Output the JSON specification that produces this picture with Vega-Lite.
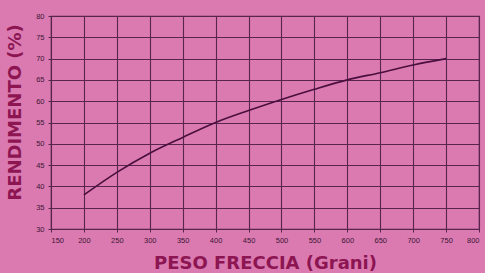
{
  "$schema": "https://vega.github.io/schema/vega-lite/v6.json",
  "width": 428,
  "height": 213,
  "autosize": "none",
  "padding": {"left": 51, "top": 16, "right": 6, "bottom": 44},
  "background": "#da7ab0",
  "config": {
    "view": {"stroke": "#5a2450", "strokeWidth": 1.2},
    "axis": {
      "gridColor": "#5a2450",
      "gridOpacity": 1,
      "gridWidth": 1.1,
      "domainColor": "#5a2450",
      "tickColor": "#5a2450",
      "tickSize": 3,
      "labelColor": "#3d1535",
      "labelFont": "Liberation Sans",
      "labelFontSize": 7.5,
      "titleColor": "#8c1552",
      "titleFont": "DejaVu Sans",
      "titleFontWeight": "bold",
      "titleFontSize": 18
    }
  },
  "data": {
    "values": [
      {"peso": 200, "rend": 38},
      {"peso": 250, "rend": 43.3},
      {"peso": 300, "rend": 47.8},
      {"peso": 350, "rend": 51.5},
      {"peso": 400, "rend": 55},
      {"peso": 450, "rend": 57.8},
      {"peso": 500, "rend": 60.4},
      {"peso": 550, "rend": 62.8},
      {"peso": 600, "rend": 65},
      {"peso": 650, "rend": 66.7},
      {"peso": 700, "rend": 68.5},
      {"peso": 750, "rend": 70}
    ]
  },
  "mark": {"type": "line", "interpolate": "monotone", "color": "#4a0f3e", "strokeWidth": 1.6},
  "encoding": {
    "x": {
      "field": "peso",
      "type": "quantitative",
      "scale": {"domain": [150, 800], "nice": false},
      "axis": {
        "values": [150, 200, 250, 300, 350, 400, 450, 500, 550, 600, 650, 700, 750, 800],
        "title": "PESO FRECCIA (Grani)",
        "labelPadding": 4,
        "titleY": 39,
        "titleBaseline": "alphabetic"
      }
    },
    "y": {
      "field": "rend",
      "type": "quantitative",
      "scale": {"domain": [30, 80], "nice": false, "zero": false},
      "axis": {
        "values": [30, 35, 40, 45, 50, 55, 60, 65, 70, 75, 80],
        "title": "RENDIMENTO (%)",
        "labelPadding": 4,
        "titleAngle": -90,
        "titleX": -36,
        "titleY": 96,
        "titleAlign": "center",
        "titleBaseline": "middle"
      }
    }
  }
}
